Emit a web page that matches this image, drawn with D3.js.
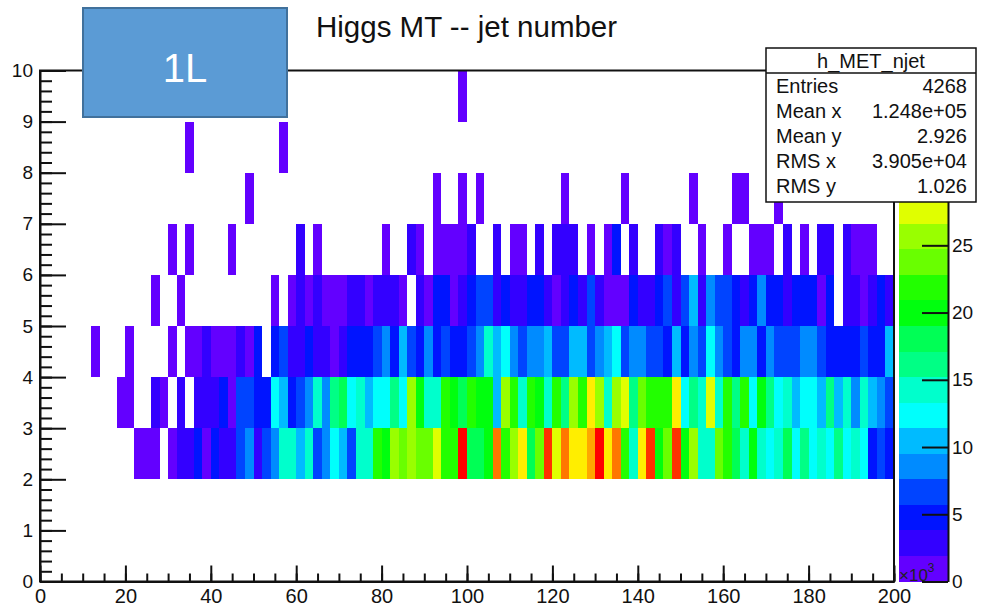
<!DOCTYPE html>
<meta charset="utf-8">
<script src="https://d3js.org/d3.v7.min.js"></script>
<style>
body { margin: 0; background: #fff; }
text { font-family: "Liberation Sans", Arial, Helvetica, sans-serif; }
</style>
<div id="my_dataviz"></div>
<script>
// bin contents per jet multiplicity, 100 bins of MT (x10^3) from 0 to 200
var nj2 = [0,0,0,0,0,0,0,0,0,0,
  0,1,1,1,0,1,3,3,5,1,
  5,3,3,7,9,3,7,9,14,14,
  10,14,7,9,12,10,7,14,14,22,
  20,26,24,26,24,24,28,22,22,38,
  18,18,20,33,22,26,29,18,24,35,
  28,33,29,29,31,37,29,33,22,14,
  29,35,20,24,35,20,26,14,14,24,
  22,18,14,20,14,12,14,18,12,16,
  12,14,12,16,12,14,12,5,7,5];
var nj3 = [0,0,0,0,0,0,0,0,0,1,
  1,0,0,3,1,0,3,0,3,3,
  3,5,1,7,7,5,5,12,10,5,
  7,9,14,9,16,18,12,14,10,12,
  12,16,12,26,20,14,14,22,20,18,
  22,20,20,10,26,22,14,22,20,14,
  22,16,26,22,29,26,14,26,28,16,
  24,22,22,22,29,12,16,14,28,14,
  22,16,22,12,20,16,12,14,10,12,
  12,10,16,10,14,9,14,10,9,7];
var nj4 = [0,0,0,0,0,0,1,0,0,0,
  1,0,0,0,0,1,0,1,1,3,
  1,1,1,3,1,5,0,5,7,3,
  3,5,3,3,1,3,5,5,5,7,
  9,5,10,7,5,9,5,7,5,5,
  7,9,14,10,12,9,7,9,9,10,
  7,7,10,10,7,9,10,12,7,9,
  9,7,7,5,10,5,9,7,12,9,
  7,5,9,9,5,9,7,7,7,9,
  9,7,5,5,5,5,7,5,5,10];
var nj5 = [0,0,0,0,0,0,0,0,0,0,
  0,0,0,1,0,0,1,0,0,0,
  0,0,0,0,0,0,0,1,0,1,
  3,1,3,1,1,1,3,3,1,3,
  3,3,1,0,3,1,5,5,1,3,
  5,7,7,3,5,3,3,5,5,3,
  1,3,5,3,7,3,1,1,1,5,
  3,3,5,7,3,7,10,3,9,7,
  7,5,3,5,9,5,5,3,5,5,
  5,1,5,0,3,3,1,3,5,3];
var nj6 = [0,0,0,0,0,0,0,0,0,0,
  0,0,0,0,0,1,0,1,0,0,
  0,0,1,0,0,0,0,0,0,0,
  3,0,1,0,0,0,0,0,0,0,
  1,0,0,3,1,0,1,1,1,1,
  3,0,0,3,0,1,1,0,3,0,
  3,3,3,0,1,0,1,5,0,3,
  0,0,3,1,3,0,0,1,0,0,
  1,0,0,1,1,1,0,3,0,1,
  0,3,3,0,3,1,1,1,0,0];
var nj7 = [0,0,0,0,0,0,0,0,0,0,
  0,0,0,0,0,0,0,0,0,0,
  0,0,0,0,1,0,0,0,0,0,
  0,0,0,0,0,0,0,0,0,0,
  0,0,0,0,0,0,1,0,0,1,
  0,1,0,0,0,0,0,0,0,0,
  0,1,0,0,0,0,0,0,1,0,
  0,0,0,0,0,0,1,0,0,0,
  0,1,1,0,0,0,1,0,0,0,
  0,0,0,0,0,0,0,0,0,0];
var nj8 = [0,0,0,0,0,0,0,0,0,0,
  0,0,0,0,0,0,0,1,0,0,
  0,0,0,0,0,0,0,0,1,0,
  0,0,0,0,0,0,0,0,0,0,
  0,0,0,0,0,0,0,0,0,0,
  0,0,0,0,0,0,0,0,0,0,
  0,0,0,0,0,0,0,0,0,0,
  0,0,0,0,0,0,0,0,0,0,
  0,0,0,0,0,0,0,0,0,0,
  0,0,0,0,0,0,0,0,0,0];
var nj9 = [0,0,0,0,0,0,0,0,0,0,
  0,0,0,0,0,0,0,0,0,0,
  0,0,0,0,0,0,0,0,0,0,
  0,0,0,0,0,0,0,0,0,0,
  0,0,0,0,0,0,0,0,0,1,
  0,0,0,0,0,0,0,0,0,0,
  0,0,0,0,0,0,0,0,0,0,
  0,0,0,0,0,0,0,0,0,0,
  0,0,0,0,0,0,0,0,0,0,
  0,0,0,0,0,0,0,0,0,0];
var njetRows = [2, 3, 4, 5, 6, 7, 8, 9];
var binContents = [nj2, nj3, nj4, nj5, nj6, nj7, nj8, nj9];
var binWidth = 2;

var xTicks = [0, 20, 40, 60, 80, 100, 120, 140, 160, 180, 200];
var yTicks = [0, 1, 2, 3, 4, 5, 6, 7, 8, 9, 10];
// ticks above 25 sit under the stats box
var zTicks = [0, 5, 10, 15, 20, 25];

var statsLabels = ["Entries", "Mean x", "Mean y", "RMS x", "RMS y"];
var statsValues = ["4268", "1.248e+05", "2.926", "3.905e+04", "1.026"];

var svg = d3.select("#my_dataviz")
  .append("svg")
    .attr("width", 982)
    .attr("height", 607);

var x = d3.scaleLinear().domain([0, 200]).range([40, 894]);
var y = d3.scaleLinear().domain([0, 10]).range([581.5, 70.5]);
var zMax = d3.max(binContents, function(r) { return d3.max(r); });
var z = d3.scaleLinear().domain([0, zMax]).range([581.5, 70.5]);

// ROOT "pretty" palette: 50 HLS colours violet -> red, 20 contour levels
var nLevels = 20;
var levelColor = function(k) {
  var idx = Math.floor((k + 0.99) * 50 / nLevels);
  return d3.hsl(280 - (idx + 1) * 5.6, 1, 0.5).formatHex();
};
var level = function(v) { return Math.min(nLevels - 1, Math.floor(v / zMax * nLevels)); };

var cells = [];
binContents.forEach(function(row, j) {
  row.forEach(function(c, i) {
    if (c > 0) cells.push({njet: njetRows[j], bin: i, count: c});
  });
});

svg.append("g")
  .selectAll("rect")
  .data(cells)
  .enter()
  .append("rect")
    .attr("x", function(d) { return x(d.bin * binWidth); })
    .attr("width", function(d) { return x((d.bin + 1) * binWidth) - x(d.bin * binWidth); })
    .attr("y", function(d) { return y(d.njet + 1); })
    .attr("height", function(d) { return y(d.njet) - y(d.njet + 1); })
    .attr("fill", function(d) { return levelColor(level(d.count)); })
    .attr("shape-rendering", "crispEdges");

// palette
svg.append("g")
  .selectAll("rect")
  .data(d3.range(nLevels))
  .enter()
  .append("rect")
    .attr("x", 899)
    .attr("width", 49)
    .attr("y", function(k) { return z((k + 1) * zMax / nLevels); })
    .attr("height", function(k) { return z(k * zMax / nLevels) - z((k + 1) * zMax / nLevels); })
    .attr("fill", levelColor)
    .attr("shape-rendering", "crispEdges");

// frame
svg.append("rect")
  .attr("x", 40).attr("y", 70.5)
  .attr("width", 854).attr("height", 511)
  .attr("fill", "none")
  .attr("stroke", "#111")
  .attr("stroke-width", 2);

var styleAxis = function(g, size) {
  g.selectAll("line").attr("stroke", "#111").attr("stroke-width", 2);
  g.selectAll(".domain").attr("stroke", "#111").attr("stroke-width", 2);
  g.selectAll("text").attr("font-size", size).attr("fill", "#111")
    .attr("font-family", "'Liberation Sans', Arial, sans-serif");
};

// x axis
svg.append("g")
  .attr("transform", "translate(0,581.5)")
  .call(d3.axisBottom(x).tickValues(xTicks).tickSizeInner(-16).tickSizeOuter(0).tickPadding(7))
  .call(styleAxis, 20);
svg.append("g")
  .attr("transform", "translate(0,581.5)")
  .call(d3.axisBottom(x).tickValues(d3.range(0, 201, 5)).tickSize(-8).tickFormat(""))
  .call(styleAxis, 20)
  .select(".domain").remove();

// y axis
svg.append("g")
  .attr("transform", "translate(40,0)")
  .call(d3.axisLeft(y).tickValues(yTicks).tickSizeInner(-26).tickSizeOuter(0).tickPadding(7))
  .call(styleAxis, 19);
svg.append("g")
  .attr("transform", "translate(40,0)")
  .call(d3.axisLeft(y).tickValues(d3.range(0, 10.01, 0.2)).tickSize(-12).tickFormat(""))
  .call(styleAxis, 19)
  .select(".domain").remove();

// z axis on palette
svg.append("g")
  .attr("transform", "translate(948,0)")
  .call(d3.axisRight(z).tickValues(zTicks).tickSizeInner(-26).tickSizeOuter(0).tickPadding(4))
  .call(styleAxis, 19);

var expo = svg.append("text")
  .attr("x", 899).attr("y", 581)
  .attr("font-size", 17)
  .attr("fill", "#222")
  .text("\u00d710");
expo.append("tspan").attr("dy", -9).attr("font-size", 12).text("3");

// title
svg.append("text")
  .attr("x", 316).attr("y", 37)
  .attr("font-size", 29.5)
  .attr("fill", "#111")
  .text("Higgs MT -- jet number");

// stats box
var stats = svg.append("g");
stats.append("rect")
  .attr("x", 766).attr("y", 48)
  .attr("width", 210).attr("height", 154)
  .attr("fill", "#fff").attr("stroke", "#111").attr("stroke-width", 1.5);
stats.append("line")
  .attr("x1", 766).attr("x2", 976).attr("y1", 73).attr("y2", 73)
  .attr("stroke", "#111").attr("stroke-width", 1.5);
stats.append("text")
  .attr("x", 871).attr("y", 68)
  .attr("text-anchor", "middle").attr("font-size", 20).attr("fill", "#111")
  .text("h_MET_njet");
var rowY = [93, 118, 143, 168, 193];
stats.selectAll("lab").data(statsLabels).enter().append("text")
  .attr("x", 776).attr("y", function(d, i) { return rowY[i]; })
  .attr("font-size", 20).attr("fill", "#111")
  .text(function(d) { return d; });
stats.selectAll("val").data(statsValues).enter().append("text")
  .attr("x", 967).attr("y", function(d, i) { return rowY[i]; })
  .attr("text-anchor", "end").attr("font-size", 20).attr("fill", "#111")
  .text(function(d) { return d; });

// "1L" label box
svg.append("rect")
  .attr("x", 83).attr("y", 8)
  .attr("width", 204).attr("height", 109)
  .attr("fill", "#5b9bd5").attr("stroke", "#41719c").attr("stroke-width", 2);
svg.append("text")
  .attr("x", 185).attr("y", 82)
  .attr("text-anchor", "middle")
  .attr("font-family", "Lato, 'Open Sans', sans-serif")
  .attr("font-size", 40).attr("fill", "#fff")
  .text("1L");
</script>
